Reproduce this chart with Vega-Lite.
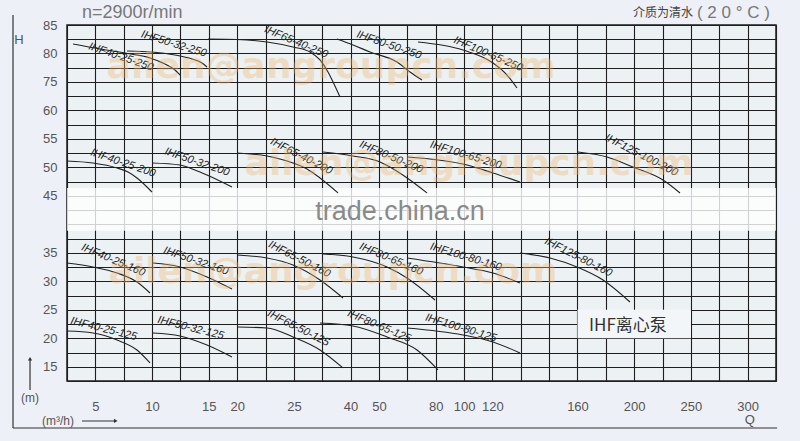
{
  "$schema": "https://vega.github.io/schema/vega-lite/v6.json",
  "width": 709,
  "height": 356,
  "autosize": {"type": "none"},
  "padding": {"left": 67, "top": 25, "right": 24, "bottom": 60},
  "background": "#eef0f7",
  "config": {
    "view": {"stroke": "#1e1e1e", "strokeWidth": 1.5, "fill": "#ecf2f4"},
    "axis": {"gridColor": "#1e1e1e", "gridWidth": 1.1, "gridOpacity": 1, "labelColor": "#555", "labelFont": "Liberation Sans", "labelFontSize": 13, "ticks": false, "domain": false, "title": null, "labelOverlap": false, "labelFlush": false, "labelBound": false},
    "text": {"font": "Liberation Sans"}
  },
  "datasets": {
    "curves": [
      {"pump": "IHF40-25-250", "Q": 3.03, "H": 81.66}, {"pump": "IHF40-25-250", "Q": 5.41, "H": 80.79}, {"pump": "IHF40-25-250", "Q": 7.61, "H": 80.08}, {"pump": "IHF40-25-250", "Q": 9.82, "H": 79.21}, {"pump": "IHF40-25-250", "Q": 11.14, "H": 78.15}, {"pump": "IHF40-25-250", "Q": 12.02, "H": 77.1}, {"pump": "IHF40-25-250", "Q": 12.46, "H": 76.22},
      {"pump": "IHF50-32-250", "Q": 7.79, "H": 80.44}, {"pump": "IHF50-32-250", "Q": 9.99, "H": 80.26}, {"pump": "IHF50-32-250", "Q": 12.02, "H": 79.73}, {"pump": "IHF50-32-250", "Q": 13.52, "H": 79.03}, {"pump": "IHF50-32-250", "Q": 14.4, "H": 78.33}, {"pump": "IHF50-32-250", "Q": 14.84, "H": 77.63},
      {"pump": "IHF65-40-250", "Q": 14.93, "H": 82.54}, {"pump": "IHF65-40-250", "Q": 19.97, "H": 82.45}, {"pump": "IHF65-40-250", "Q": 22.63, "H": 82.02}, {"pump": "IHF65-40-250", "Q": 24.92, "H": 81.14}, {"pump": "IHF65-40-250", "Q": 29.26, "H": 80.26}, {"pump": "IHF65-40-250", "Q": 31.91, "H": 78.86}, {"pump": "IHF65-40-250", "Q": 34.02, "H": 76.75}, {"pump": "IHF65-40-250", "Q": 35.61, "H": 73.93}, {"pump": "IHF65-40-250", "Q": 37.2, "H": 67.08},
      {"pump": "IHF80-50-250", "Q": 36.4, "H": 82.54}, {"pump": "IHF80-50-250", "Q": 40.85, "H": 81.49}, {"pump": "IHF80-50-250", "Q": 46.84, "H": 80.26}, {"pump": "IHF80-50-250", "Q": 59.54, "H": 78.5}, {"pump": "IHF80-50-250", "Q": 66.41, "H": 76.75}, {"pump": "IHF80-50-250", "Q": 72.77, "H": 75.34},
      {"pump": "IHF100-65-250", "Q": 70.64, "H": 82.02}, {"pump": "IHF100-65-250", "Q": 99.26, "H": 80.61}, {"pump": "IHF100-65-250", "Q": 120.28, "H": 78.33}, {"pump": "IHF100-65-250", "Q": 126.87, "H": 76.22}, {"pump": "IHF100-65-250", "Q": 131.56, "H": 71.82},
      {"pump": "IHF40-25-200", "Q": 2.5, "H": 51.12}, {"pump": "IHF40-25-200", "Q": 4.79, "H": 50.77}, {"pump": "IHF40-25-200", "Q": 6.91, "H": 49.9}, {"pump": "IHF40-25-200", "Q": 7.88, "H": 49.19}, {"pump": "IHF40-25-200", "Q": 8.67, "H": 48.14}, {"pump": "IHF40-25-200", "Q": 9.99, "H": 45.68},
      {"pump": "IHF50-32-200", "Q": 9.99, "H": 50.77}, {"pump": "IHF50-32-200", "Q": 12.46, "H": 50.42}, {"pump": "IHF50-32-200", "Q": 13.78, "H": 49.55}, {"pump": "IHF50-32-200", "Q": 14.84, "H": 48.67}, {"pump": "IHF50-32-200", "Q": 19.09, "H": 46.56},
      {"pump": "IHF65-40-200", "Q": 19.97, "H": 52.53}, {"pump": "IHF65-40-200", "Q": 22.63, "H": 52.0}, {"pump": "IHF65-40-200", "Q": 24.92, "H": 50.77}, {"pump": "IHF65-40-200", "Q": 28.47, "H": 49.72}, {"pump": "IHF65-40-200", "Q": 31.91, "H": 48.14}, {"pump": "IHF65-40-200", "Q": 36.67, "H": 45.51},
      {"pump": "IHF80-50-200", "Q": 32.7, "H": 52.7}, {"pump": "IHF80-50-200", "Q": 40.85, "H": 52.0}, {"pump": "IHF80-50-200", "Q": 50.55, "H": 50.95}, {"pump": "IHF80-50-200", "Q": 58.49, "H": 49.55}, {"pump": "IHF80-50-200", "Q": 66.41, "H": 47.79}, {"pump": "IHF80-50-200", "Q": 75.41, "H": 45.51},
      {"pump": "IHF100-65-200", "Q": 64.83, "H": 51.83}, {"pump": "IHF100-65-200", "Q": 102.08, "H": 50.42}, {"pump": "IHF100-65-200", "Q": 120.28, "H": 49.02}, {"pump": "IHF100-65-200", "Q": 132.97, "H": 47.44},
      {"pump": "IHF125-100-200", "Q": 160.36, "H": 52.7}, {"pump": "IHF125-100-200", "Q": 180.82, "H": 51.83}, {"pump": "IHF125-100-200", "Q": 199.16, "H": 50.07}, {"pump": "IHF125-100-200", "Q": 225.4, "H": 47.79}, {"pump": "IHF125-100-200", "Q": 240.38, "H": 45.51},
      {"pump": "IHF40-25-160", "Q": 2.5, "H": 33.21}, {"pump": "IHF40-25-160", "Q": 4.79, "H": 32.51}, {"pump": "IHF40-25-160", "Q": 6.91, "H": 31.46}, {"pump": "IHF40-25-160", "Q": 8.67, "H": 29.88}, {"pump": "IHF40-25-160", "Q": 9.82, "H": 27.95},
      {"pump": "IHF50-32-160", "Q": 10.08, "H": 33.21}, {"pump": "IHF50-32-160", "Q": 12.46, "H": 32.51}, {"pump": "IHF50-32-160", "Q": 14.84, "H": 30.76}, {"pump": "IHF50-32-160", "Q": 19.09, "H": 28.65},
      {"pump": "IHF65-50-160", "Q": 19.97, "H": 34.62}, {"pump": "IHF65-50-160", "Q": 22.63, "H": 34.09}, {"pump": "IHF65-50-160", "Q": 24.92, "H": 32.86}, {"pump": "IHF65-50-160", "Q": 31.91, "H": 30.23}, {"pump": "IHF65-50-160", "Q": 37.99, "H": 27.07},
      {"pump": "IHF80-65-160", "Q": 32.7, "H": 34.79}, {"pump": "IHF80-65-160", "Q": 40.85, "H": 34.27}, {"pump": "IHF80-65-160", "Q": 54.25, "H": 32.51}, {"pump": "IHF80-65-160", "Q": 64.83, "H": 30.58}, {"pump": "IHF80-65-160", "Q": 79.64, "H": 26.72},
      {"pump": "IHF100-80-160", "Q": 64.83, "H": 34.09}, {"pump": "IHF100-80-160", "Q": 99.26, "H": 32.51}, {"pump": "IHF100-80-160", "Q": 120.28, "H": 31.46}, {"pump": "IHF100-80-160", "Q": 132.97, "H": 29.7},
      {"pump": "IHF125-80-160", "Q": 132.97, "H": 34.97}, {"pump": "IHF125-80-160", "Q": 147.08, "H": 34.09}, {"pump": "IHF125-80-160", "Q": 159.77, "H": 32.51}, {"pump": "IHF125-80-160", "Q": 178.0, "H": 30.23}, {"pump": "IHF125-80-160", "Q": 197.04, "H": 26.37},
      {"pump": "IHF40-25-125", "Q": 2.5, "H": 21.28}, {"pump": "IHF40-25-125", "Q": 4.79, "H": 20.93}, {"pump": "IHF40-25-125", "Q": 6.91, "H": 19.7}, {"pump": "IHF40-25-125", "Q": 8.67, "H": 17.95}, {"pump": "IHF40-25-125", "Q": 9.82, "H": 15.67},
      {"pump": "IHF50-32-125", "Q": 10.08, "H": 20.93}, {"pump": "IHF50-32-125", "Q": 12.46, "H": 20.4}, {"pump": "IHF50-32-125", "Q": 14.84, "H": 18.82}, {"pump": "IHF50-32-125", "Q": 19.09, "H": 16.72},
      {"pump": "IHF65-50-125", "Q": 20.07, "H": 21.98}, {"pump": "IHF65-50-125", "Q": 22.63, "H": 21.81}, {"pump": "IHF65-50-125", "Q": 24.92, "H": 20.23}, {"pump": "IHF65-50-125", "Q": 31.91, "H": 17.95}, {"pump": "IHF65-50-125", "Q": 37.99, "H": 14.79},
      {"pump": "IHF80-65-125", "Q": 31.91, "H": 22.68}, {"pump": "IHF80-65-125", "Q": 40.85, "H": 22.16}, {"pump": "IHF80-65-125", "Q": 54.25, "H": 20.23}, {"pump": "IHF80-65-125", "Q": 70.12, "H": 17.95}, {"pump": "IHF80-65-125", "Q": 81.64, "H": 14.44},
      {"pump": "IHF100-80-125", "Q": 64.83, "H": 21.81}, {"pump": "IHF100-80-125", "Q": 99.26, "H": 20.58}, {"pump": "IHF100-80-125", "Q": 120.28, "H": 19.35}, {"pump": "IHF100-80-125", "Q": 132.97, "H": 17.42}
    ],
    "labels": [
      {"pump": "IHF40-25-250", "Q": 7.17, "H": 78.86},
      {"pump": "IHF50-32-250", "Q": 11.84, "H": 81.14},
      {"pump": "IHF65-40-250", "Q": 25.29, "H": 81.49},
      {"pump": "IHF80-50-250", "Q": 54.78, "H": 80.96},
      {"pump": "IHF100-65-250", "Q": 116.2, "H": 79.38},
      {"pump": "IHF40-25-200", "Q": 7.35, "H": 50.25},
      {"pump": "IHF50-32-200", "Q": 13.87, "H": 50.42},
      {"pump": "IHF65-40-200", "Q": 26.62, "H": 51.47},
      {"pump": "IHF80-50-200", "Q": 55.84, "H": 51.3},
      {"pump": "IHF100-65-200", "Q": 100.68, "H": 51.65},
      {"pump": "IHF125-100-200", "Q": 205.12, "H": 51.65},
      {"pump": "IHF40-25-160", "Q": 6.47, "H": 33.21},
      {"pump": "IHF50-32-160", "Q": 13.78, "H": 33.04},
      {"pump": "IHF65-50-160", "Q": 26.09, "H": 33.39},
      {"pump": "IHF80-65-160", "Q": 55.84, "H": 33.39},
      {"pump": "IHF100-80-160", "Q": 100.68, "H": 33.74},
      {"pump": "IHF125-80-160", "Q": 159.77, "H": 33.74},
      {"pump": "IHF40-25-125", "Q": 5.67, "H": 21.11},
      {"pump": "IHF50-32-125", "Q": 13.34, "H": 21.28},
      {"pump": "IHF65-50-125", "Q": 25.82, "H": 21.28},
      {"pump": "IHF80-65-125", "Q": 49.66, "H": 21.63},
      {"pump": "IHF100-80-125", "Q": 97.16, "H": 21.28}
    ]
  },
  "encoding": {
    "x": {
      "field": "Q", "type": "quantitative",
      "scale": {"domain": [2.5, 5, 10, 15, 20, 25, 40, 50, 80, 100, 120, 160, 200, 250, 300, 325], "range": [0, 28.36, 85.08, 141.8, 170.16, 226.88, 283.6, 311.96, 368.68, 397.04, 425.4, 510.48, 567.2, 623.92, 680.64, 709], "nice": false, "zero": false},
      "axis": {"values": [2.5, 5, 7.5, 10, 12.5, 15, 20, 22.5, 25, 32.5, 40, 50, 65, 80, 100, 120, 133.333, 146.667, 160, 180, 200, 225, 250, 275, 300, 325], "format": "d", "labelExpr": "indexof([5,10,15,20,25,40,50,80,100,120,160,200,250,300], datum.value) >= 0 ? datum.label : ''", "grid": true, "labelPadding": 19}
    },
    "y": {
      "field": "H", "type": "quantitative",
      "scale": {"domain": [12.5, 60, 75, 85], "range": [356, 85.44, 56.96, 0], "nice": false, "zero": false},
      "axis": {"values": [12.5, 15, 17.5, 20, 22.5, 25, 27.5, 30, 32.5, 35, 37.5, 40, 42.5, 45, 47.5, 50, 52.5, 55, 57.5, 60, 67.5, 75, 77.5, 80, 82.5, 85], "format": "d", "labelExpr": "indexof([15,20,25,30,35,45,50,55,60,75,80,85], datum.value) >= 0 ? datum.label : ''", "grid": true, "labelPadding": 10}
    }
  },
  "layer": [
    {
      "data": {"values": [{"Q": 2.5, "Q2": 325, "H": 38.9, "H2": 46.4}]},
      "mark": {"type": "rect", "color": "#ffffff", "opacity": 0.8},
      "encoding": {"x2": {"field": "Q2"}, "y2": {"field": "H2"}}
    },
    {
      "data": {"values": [{"Q": 160, "Q2": 250, "H": 20, "H2": 25}]},
      "mark": {"type": "rect", "color": "#f3f6f8"},
      "encoding": {"x2": {"field": "Q2"}, "y2": {"field": "H2"}}
    },
    {
      "data": {"values": [{"Q": 61.13, "H": 40.77, "text": "trade.china.cn"}]},
      "mark": {"type": "text", "fontSize": 27, "color": "#8a8a8a", "align": "center", "baseline": "alphabetic"},
      "encoding": {"text": {"field": "text"}}
    },
    {
      "data": {"name": "curves"},
      "mark": {"type": "line", "interpolate": "monotone", "color": "#222", "strokeWidth": 1.1},
      "encoding": {"detail": {"field": "pump"}}
    },
    {
      "data": {"name": "labels"},
      "transform": [{"filter": {"field": "pump", "oneOf": ["IHF40-25-125", "IHF50-32-125"]}}],
      "mark": {"type": "text", "angle": 14, "dy": -3, "fontSize": 11, "fontStyle": "italic", "color": "#222"},
      "encoding": {"text": {"field": "pump"}}
    },
    {
      "data": {"name": "labels"},
      "transform": [{"filter": {"field": "pump", "oneOf": ["IHF50-32-250", "IHF100-65-200", "IHF100-80-160", "IHF100-80-125"]}}],
      "mark": {"type": "text", "angle": 17, "dy": -3, "fontSize": 11, "fontStyle": "italic", "color": "#222"},
      "encoding": {"text": {"field": "pump"}}
    },
    {
      "data": {"name": "labels"},
      "transform": [{"filter": {"field": "pump", "oneOf": ["IHF40-25-250", "IHF80-50-250", "IHF40-25-200", "IHF50-32-200", "IHF50-32-160"]}}],
      "mark": {"type": "text", "angle": 19, "dy": -3, "fontSize": 11, "fontStyle": "italic", "color": "#222"},
      "encoding": {"text": {"field": "pump"}}
    },
    {
      "data": {"name": "labels"},
      "transform": [{"filter": {"field": "pump", "oneOf": ["IHF65-40-250", "IHF100-65-250", "IHF80-50-200", "IHF40-25-160", "IHF80-65-160", "IHF80-65-125"]}}],
      "mark": {"type": "text", "angle": 23, "dy": -3, "fontSize": 11, "fontStyle": "italic", "color": "#222"},
      "encoding": {"text": {"field": "pump"}}
    },
    {
      "data": {"name": "labels"},
      "transform": [{"filter": {"field": "pump", "oneOf": ["IHF65-40-200", "IHF125-100-200", "IHF65-50-160", "IHF125-80-160", "IHF65-50-125"]}}],
      "mark": {"type": "text", "angle": 27, "dy": -3, "fontSize": 11, "fontStyle": "italic", "color": "#222"},
      "encoding": {"text": {"field": "pump"}}
    },
    {
      "data": {"values": [{"Q": 34.82, "H": 75.7, "text": "ailen@angroupcn.com"}, {"Q": 103.5, "H": 48.67, "text": "ailen@angroupcn.com"}, {"Q": 35.35, "H": 29.7, "text": "ailen@angroupcn.com"}]},
      "mark": {"type": "text", "font": "DejaVu Sans", "fontWeight": "bold", "fontSize": 36, "color": "#f0b86e", "opacity": 0.36, "align": "center", "baseline": "alphabetic"},
      "encoding": {"text": {"field": "text"}}
    },
    {
      "data": {"values": [{"Q": 195.6, "H": 22.16, "text": "IHF离心泵"}]},
      "mark": {"type": "text", "font": "Noto Sans CJK SC", "fontSize": 17, "color": "#333", "align": "center", "baseline": "middle"},
      "encoding": {"text": {"field": "text"}}
    },
    {
      "data": {"values": [{"Q": -2.26, "H": 86.76, "Q2": -2.26, "H2": 4.25}, {"Q": -2.26, "H": 4.25, "Q2": 326, "H2": 4.25}, {"Q": -0.76, "H": 10.92, "Q2": -0.76, "H2": 16.3}, {"Q": 3.82, "H": 5.48, "Q2": 6.7, "H2": 5.48}]},
      "mark": {"type": "rule", "color": "#333", "strokeWidth": 1.2},
      "encoding": {"x2": {"field": "Q2"}, "y2": {"field": "H2"}}
    },
    {
      "data": {"values": [{"Q": -0.76, "H": 16.4}]},
      "mark": {"type": "point", "shape": "triangle-up", "size": 18, "filled": true, "color": "#333", "opacity": 1},
      "encoding": {}
    },
    {
      "data": {"values": [{"Q": 6.8, "H": 5.48}]},
      "mark": {"type": "point", "shape": "triangle-right", "size": 18, "filled": true, "color": "#333", "opacity": 1},
      "encoding": {}
    },
    {
      "data": {"values": [{"Q": 3.82, "H": 87.1, "text": "n=2900r/min"}]},
      "mark": {"type": "text", "fontSize": 18, "color": "#777", "align": "left", "baseline": "middle"},
      "encoding": {"text": {"field": "text"}}
    },
    {
      "data": {"values": [{"Q": 251.8, "H": 87.1, "text": "介质为清水"}]},
      "mark": {"type": "text", "font": "Noto Sans CJK SC", "fontSize": 12, "color": "#444", "align": "right", "baseline": "middle"},
      "encoding": {"text": {"field": "text"}}
    },
    {
      "data": {"values": [{"Q": 255.3, "H": 87.1, "text": "( 2 0 ° C )"}]},
      "mark": {"type": "text", "fontSize": 17, "color": "#777", "align": "left", "baseline": "middle"},
      "encoding": {"text": {"field": "text"}}
    },
    {
      "data": {"values": [{"Q": -1.73, "H": 82.37, "text": "H"}, {"Q": 302, "H": 5.66, "text": "Q"}]},
      "mark": {"type": "text", "fontSize": 13, "color": "#555", "align": "center", "baseline": "middle"},
      "encoding": {"text": {"field": "text"}}
    },
    {
      "data": {"values": [{"Q": -0.76, "H": 9.52, "text": "(m)"}, {"Q": 1.71, "H": 5.48, "text": "(m³/h)"}]},
      "mark": {"type": "text", "fontSize": 12, "color": "#555", "align": "center", "baseline": "middle"},
      "encoding": {"text": {"field": "text"}}
    }
  ]
}
